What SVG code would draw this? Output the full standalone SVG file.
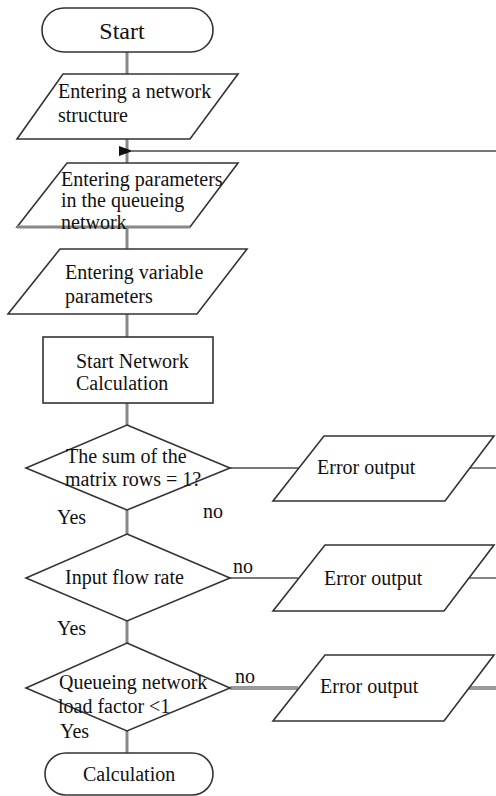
<svg xmlns="http://www.w3.org/2000/svg" width="496" height="796" viewBox="0 0 496 796">
<defs>
<marker id="ah" markerWidth="14" markerHeight="10" refX="1" refY="5" orient="auto" markerUnits="userSpaceOnUse">
<path d="M14,0 L0,5 L14,10 Z" fill="#111"/>
</marker>
<style>
.sh{fill:#fff;stroke:#333;stroke-width:1.6}
.c{fill:none;stroke:#888;stroke-width:3}
.ct{fill:none;stroke:#777;stroke-width:1.8}
.t{font-family:"Liberation Serif","Times New Roman",serif;font-size:20px;fill:#111}
.big{font-size:24px}
</style>
</defs>
<rect width="496" height="796" fill="#fff"/>
<g id="connectors">
<line class="c" x1="127" y1="52" x2="127" y2="74"/>
<line class="c" x1="127" y1="139" x2="127" y2="163"/>
<line class="ct" x1="496" y1="151" x2="132" y2="151" marker-end="url(#ah)"/>
<line class="c" x1="127" y1="227" x2="127" y2="249"/>
<line class="c" x1="127" y1="314" x2="127" y2="337"/>
<line class="c" x1="127" y1="403" x2="127" y2="425"/>
<line class="c" x1="127" y1="510" x2="127" y2="534"/>
<line class="c" x1="127" y1="621" x2="127" y2="643"/>
<line class="c" x1="127" y1="731" x2="127" y2="753"/>
<line class="ct" x1="230" y1="468" x2="298" y2="468"/>
<line class="ct" x1="468" y1="468" x2="496" y2="468"/>
<line class="ct" x1="230" y1="578" x2="298" y2="578"/>
<line class="ct" x1="468" y1="578" x2="496" y2="578"/>
<line class="c" x1="230" y1="688" x2="298" y2="688" style="stroke:#999;stroke-width:4"/>
<line class="c" x1="468" y1="688" x2="496" y2="688" style="stroke:#999;stroke-width:4"/>
</g>
<g id="start">
<rect class="sh" x="42" y="8" width="171" height="44" rx="22"/>
<text class="t big" x="122" y="39" text-anchor="middle">Start</text>
</g>
<g id="enter-structure">
<polygon class="sh" points="63,74 238,74 190,139 17,139"/>
<text class="t" x="58" y="98">Entering a network</text>
<text class="t" x="58" y="122">structure</text>
</g>
<g id="enter-params">
<polygon class="sh" points="67,163 238,163 190,227 17,227"/>
<line x1="17" y1="227" x2="190" y2="227" stroke="#888" stroke-width="3"/>
<text class="t" x="61" y="186">Entering parameters</text>
<text class="t" x="61" y="207">in the queueing</text>
<text class="t" x="61" y="229">network</text>
</g>
<g id="enter-variable">
<polygon class="sh" points="60,249 247,249 197,314 8,314"/>
<text class="t" x="65" y="279">Entering variable</text>
<text class="t" x="65" y="303">parameters</text>
</g>
<g id="start-calc">
<rect class="sh" x="43" y="337" width="170" height="66"/>
<text class="t" x="76" y="368">Start Network</text>
<text class="t" x="76" y="390">Calculation</text>
</g>
<g id="dec-sum">
<polygon class="sh" points="127,425 230,468 127,510 26,468"/>
<text class="t" x="66" y="463">The sum of the</text>
<text class="t" x="65" y="486">matrix rows = 1?</text>
<text class="t" x="57" y="524">Yes</text>
<text class="t" x="203" y="518">no</text>
</g>
<g id="err1">
<polygon class="sh" points="324,436 494,436 445,501 273,501"/>
<text class="t" x="317" y="474">Error output</text>
</g>
<g id="dec-flow">
<polygon class="sh" points="127,534 230,578 127,621 26,578"/>
<text class="t" x="65" y="584">Input flow rate</text>
<text class="t" x="57" y="635">Yes</text>
<text class="t" x="233" y="573">no</text>
</g>
<g id="err2">
<polygon class="sh" points="325,545 494,545 444,611 273,611"/>
<text class="t" x="324" y="585">Error output</text>
</g>
<g id="dec-load">
<polygon class="sh" points="127,643 230,688 127,731 26,688"/>
<text class="t" x="59" y="689">Queueing network</text>
<text class="t" x="58" y="713">load factor &lt;1</text>
<text class="t" x="60" y="738">Yes</text>
<text class="t" x="235" y="683">no</text>
</g>
<g id="err3">
<polygon class="sh" points="325,655 494,655 444,721 273,721"/>
<text class="t" x="320" y="693">Error output</text>
</g>
<g id="calculation">
<rect class="sh" x="45" y="753" width="168" height="42" rx="21"/>
<text class="t" x="83" y="781">Calculation</text>
</g>
</svg>
